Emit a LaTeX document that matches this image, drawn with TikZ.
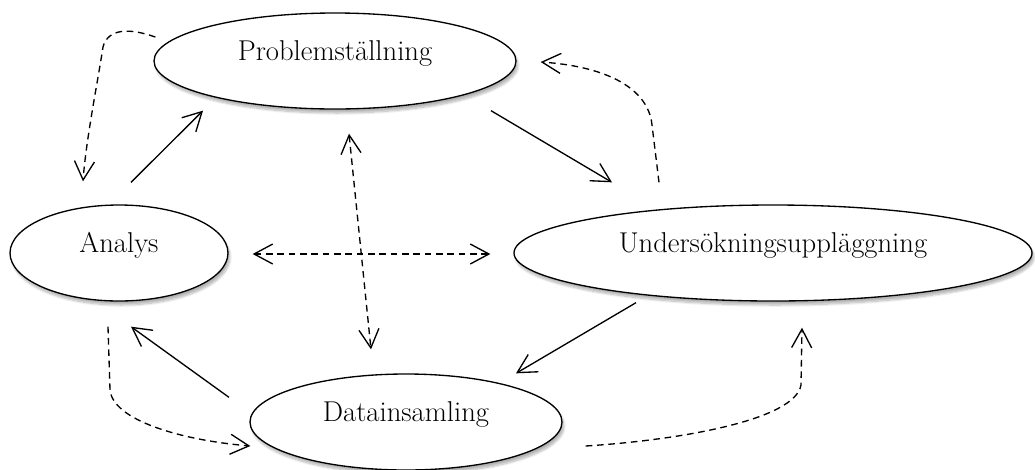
\documentclass[tikz,border=0pt]{standalone}
\usetikzlibrary{shapes.geometric,arrows.meta,shadows.blur}

\tikzset{
  barb/.tip={Straight Barb[length=14pt,width=15pt,line width=1pt]},
  phase/.style={ellipse, draw, line width=1pt, fill=white, inner sep=0pt,
    minimum height=72pt, font=\fontsize{21.5}{26}\selectfont,
    blur shadow={shadow xshift=1.5pt, shadow yshift=-3pt, shadow blur steps=8, shadow opacity=30}},
  flow/.style={line width=1pt, -barb},
  loop/.style={line width=1pt, dash pattern=on 5pt off 3.5pt, -barb},
  both/.style={loop, barb-barb},
}
\newcommand{\lifted}[1]{\raisebox{6pt}[\height][\depth]{#1}}

\begin{document}
\begin{tikzpicture}[x=0.75pt, y=-0.75pt]
  \useasboundingbox (0,0) rectangle (1035,469);

  % the four phases
  \node[phase, minimum width=271.5pt] (prob)   at (335,61)  {\lifted{Problemställning}};
  \node[phase, minimum width=163.5pt] (analys) at (119,253) {\lifted{Analys}};
  \node[phase, minimum width=388.5pt] (unders) at (773,253) {\lifted{Undersökningsuppläggning}};
  \node[phase, minimum width=234pt]   (data)   at (406,422) {\lifted{Datainsamling}};

  % main cycle
  \draw[flow] ([shift={(12,-22)}]analys.north) -- ([shift={(-132,1)}]prob.south);
  \draw[flow] ([shift={(156,1)}]prob.south) -- ([shift={(-161,-22)}]unders.north);
  \draw[flow] ([shift={(-137,1)}]unders.south) -- ([shift={(110,0)}]data.north);
  \draw[flow] ([shift={(-177,24)}]data.north) -- ([shift={(12,25)}]analys.south);

  % feedback loops
  \draw[loop] ([shift={(2,-24)}]prob.west) .. controls (130,28) and (108,28) .. (103,47)
              .. controls (98,80) and (86,140) .. ([shift={(-36,-23)}]analys.north);
  \draw[loop] ([shift={(-114,-22)}]unders.north) -- (652,125)
              .. controls (648,85) and (600,66) .. ([shift={(24,1)}]prob.east);
  \draw[loop] ([shift={(-11,25)}]analys.south) -- (110,390)
              .. controls (113,420) and (180,440) .. ([shift={(1,24)}]data.west);
  \draw[loop] ([shift={(23,24)}]data.east) .. controls (680,440) and (795,420) .. (801,385)
              -- ([shift={(29,26)}]unders.south);

  % cross links
  \draw[both] ([shift={(14,24)}]prob.south) -- ([shift={(-35,-24)}]data.north);
  \draw[both] ([shift={(24,1)}]analys.east) -- ([shift={(-23,1)}]unders.west);
\end{tikzpicture}
\end{document}
